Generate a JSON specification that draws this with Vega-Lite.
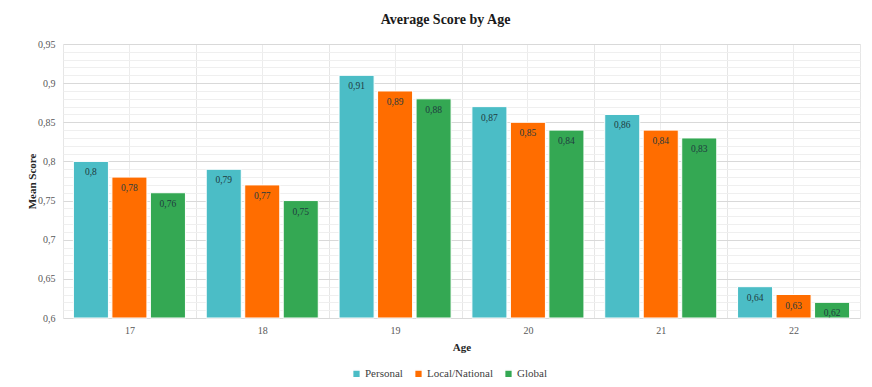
{
  "$schema": "https://vega.github.io/schema/vega-lite/v6.json",
  "autosize": {"type": "none"},
  "width": 797,
  "height": 274,
  "padding": {"left": 63, "top": 44, "right": 12, "bottom": 69},
  "background": "white",
  "config": {
    "locale": {"number": {"decimal": ",", "thousands": ".", "grouping": [3], "currency": ["", " €"]}},
    "view": {"stroke": null},
    "font": "Liberation Serif",
    "legend": {"labelFont": "Liberation Serif", "titleFont": "Liberation Serif"},
    "text": {"font": "Liberation Serif"}
  },
  "title": {
    "text": "Average Score by Age",
    "font": "Liberation Serif",
    "fontSize": 14,
    "fontWeight": "bold",
    "color": "#1a1a1a",
    "offset": 12,
    "dx": -16
  },
  "data": {
    "values": [
      {"age": "17", "series": "Personal", "score": 0.80},
      {"age": "17", "series": "Local/National", "score": 0.78},
      {"age": "17", "series": "Global", "score": 0.76},
      {"age": "18", "series": "Personal", "score": 0.79},
      {"age": "18", "series": "Local/National", "score": 0.77},
      {"age": "18", "series": "Global", "score": 0.75},
      {"age": "19", "series": "Personal", "score": 0.91},
      {"age": "19", "series": "Local/National", "score": 0.89},
      {"age": "19", "series": "Global", "score": 0.88},
      {"age": "20", "series": "Personal", "score": 0.87},
      {"age": "20", "series": "Local/National", "score": 0.85},
      {"age": "20", "series": "Global", "score": 0.84},
      {"age": "21", "series": "Personal", "score": 0.86},
      {"age": "21", "series": "Local/National", "score": 0.84},
      {"age": "21", "series": "Global", "score": 0.83},
      {"age": "22", "series": "Personal", "score": 0.64},
      {"age": "22", "series": "Local/National", "score": 0.63},
      {"age": "22", "series": "Global", "score": 0.62}
    ]
  },
  "encoding": {
    "x": {"field": "age", "type": "nominal", "sort": null,
      "scale": {"paddingInner": 0, "paddingOuter": 0}},
    "xOffset": {"field": "series", "type": "nominal", "sort": ["Personal", "Local/National", "Global"],
      "scale": {"paddingInner": 0.09, "paddingOuter": 0.27}},
    "y": {"field": "score", "type": "quantitative",
      "scale": {"domain": [0.6, 0.95], "zero": false, "nice": false}}
  },
  "layer": [
    {
      "mark": {"type": "bar", "stroke": "white", "strokeWidth": 1},
      "encoding": {
        "x": {"field": "age", "type": "nominal", "sort": null,
          "axis": {"title": "Age", "labelAngle": 0, "tickBand": "extent", "grid": true, "gridColor": "#e6e6e6",
            "ticks": false, "domain": false, "labelPadding": 7, "labelFont": "Liberation Serif", "labelFontSize": 10,
            "labelColor": "#595959", "titleFont": "Liberation Serif", "titleFontSize": 11, "titleFontWeight": "bold",
            "titleColor": "#262626", "titlePadding": 6}},
        "y": {"field": "score", "type": "quantitative",
          "axis": {"title": "Mean Score", "values": [0.6, 0.65, 0.7, 0.75, 0.8, 0.85, 0.9, 0.95], "format": ".2~f",
            "grid": true, "gridColor": "#d9d9d9", "ticks": false, "domain": false, "labelPadding": 8,
            "labelFont": "Liberation Serif", "labelFontSize": 10, "labelColor": "#595959",
            "titleFont": "Liberation Serif", "titleFontSize": 11, "titleFontWeight": "bold", "titleColor": "#262626",
            "titlePadding": 0}},
        "y2": {"datum": 0.6},
        "color": {"field": "series", "type": "nominal", "sort": ["Personal", "Local/National", "Global"],
          "scale": {"domain": ["Personal", "Local/National", "Global"], "range": ["#4bbdc6", "#ff6d00", "#34a853"]},
          "legend": {"title": null, "orient": "none", "legendX": 288, "legendY": 324, "direction": "horizontal",
            "symbolType": "square", "symbolSize": 60, "labelFont": "Liberation Serif", "labelFontSize": 11,
            "labelColor": "#404040", "columnPadding": 8, "labelOffset": 3, "symbolOffset": 0}}
      }
    },
    {
      "mark": {"type": "text", "baseline": "middle", "dy": 11, "fontSize": 9.5, "font": "Liberation Serif", "color": "#1f3b3f"},
      "encoding": {
        "x": {"field": "age", "type": "nominal", "sort": null,
          "axis": {"orient": "top", "title": null, "labels": false, "ticks": false, "domain": false, "grid": true,
            "gridColor": "#ececec", "bandPosition": 0.5}},
        "y": {"field": "score", "type": "quantitative",
          "axis": {"orient": "right", "title": null, "labels": false, "ticks": false, "domain": false, "grid": true,
            "gridColor": "#efefef",
            "values": [0.61, 0.62, 0.63, 0.64, 0.66, 0.67, 0.68, 0.69, 0.71, 0.72, 0.73, 0.74, 0.76, 0.77, 0.78, 0.79, 0.81, 0.82, 0.83, 0.84, 0.86, 0.87, 0.88, 0.89, 0.91, 0.92, 0.93, 0.94]}},
        "text": {"field": "score", "type": "quantitative", "format": ".2~f"}
      }
    }
  ],
  "resolve": {"axis": {"x": "independent", "y": "independent"}}
}
